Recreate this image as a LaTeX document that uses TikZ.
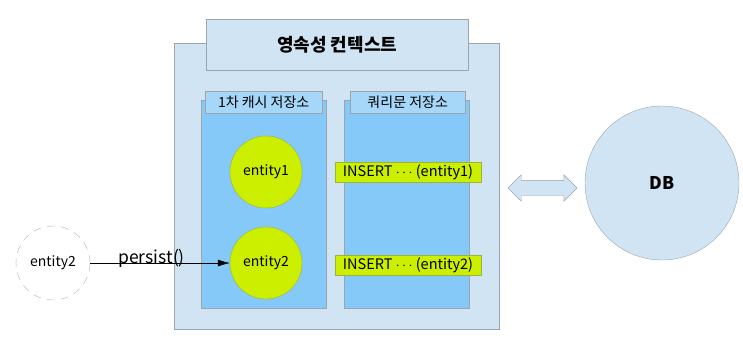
\documentclass[tikz,border=0pt]{standalone}
\usepackage{fontspec}
\setmainfont{Noto Sans CJK KR}
\usepackage{xcolor}
\usetikzlibrary{shapes, arrows, arrows.meta, positioning, calc}

\definecolor{ctxblue}{HTML}{D0E4F3}
\definecolor{colblue}{HTML}{85C9F9}
\definecolor{headblue}{HTML}{A6D7F8}
\definecolor{entgreen}{HTML}{CCEF00}
\definecolor{entedge}{HTML}{9CB43C}
\definecolor{edgegray}{HTML}{9AA5AE}

\begin{document}
\begin{tikzpicture}[x=1pt,y=-1pt,
  panel/.style={draw=edgegray, anchor=north west, inner sep=0pt},
  entity/.style={circle, draw=entedge, fill=entgreen, minimum size=72pt, inner sep=0pt,
    font=\fontsize{14}{16}\selectfont},
  query/.style={draw=entedge, fill=entgreen, minimum width=146pt, minimum height=20pt,
    inner sep=0pt, font=\fontsize{14.5}{16}\selectfont}]
  \useasboundingbox (0,0) rectangle (743,340);

  % Persistence context
  \node[panel, fill=ctxblue, minimum width=325pt, minimum height=286pt] (ctx) at (174,43) {};
  \node[panel, fill=ctxblue, minimum width=262pt, minimum height=51pt,
    font=\fontsize{18}{20}\selectfont\bfseries] (title) at (206,19) {영속성 컨텍스트};

  % Cache and query store
  \node[panel, fill=colblue, minimum width=125pt, minimum height=208pt] (cache) at (201,100) {};
  \node[panel, fill=headblue, minimum width=117pt, minimum height=22pt,
    font=\fontsize{14}{16}\selectfont] (cachehead) at (205,91) {1차 캐시 저장소};
  \node[panel, fill=colblue, minimum width=125pt, minimum height=208pt] (store) at (344,100) {};
  \node[panel, fill=headblue, minimum width=115pt, minimum height=22pt,
    font=\fontsize{14}{16}\selectfont] (storehead) at (350,91) {쿼리문 저장소};

  % Entities
  \node[entity] (e1) at (266,172) {entity1};
  \node[entity] (e2) at (266,263) {entity2};
  \node[query] (q1) at (408,172) {INSERT $\cdots$ (entity1)};
  \node[query] (q2) at (408,265) {INSERT $\cdots$ (entity2)};

  % New entity
  \node[circle, draw=gray!60, dash pattern=on 8pt off 6pt, minimum size=74pt, inner sep=0pt,
    font=\fontsize{14}{16}\selectfont] (e2new) at (53,263) {entity2};
  \draw[-{Latex[length=12pt,width=7pt]}] (e2new) -- node[pos=0.44, anchor=base, inner sep=0pt,
    font=\fontsize{17.5}{19}\selectfont] {persist()} (e2);

  % Database
  \node[circle, draw=edgegray, fill=ctxblue, minimum size=154pt, inner sep=0pt,
    font=\fontsize{17.5}{19}\selectfont\bfseries] (db) at (662,183) {DB};
  \node[double arrow, draw=edgegray, fill=ctxblue, inner xsep=0pt, inner ysep=7.5pt,
    minimum height=69pt, double arrow head extend=5.5pt] (sync) at (542.5,188) {};
\end{tikzpicture}
\end{document}
